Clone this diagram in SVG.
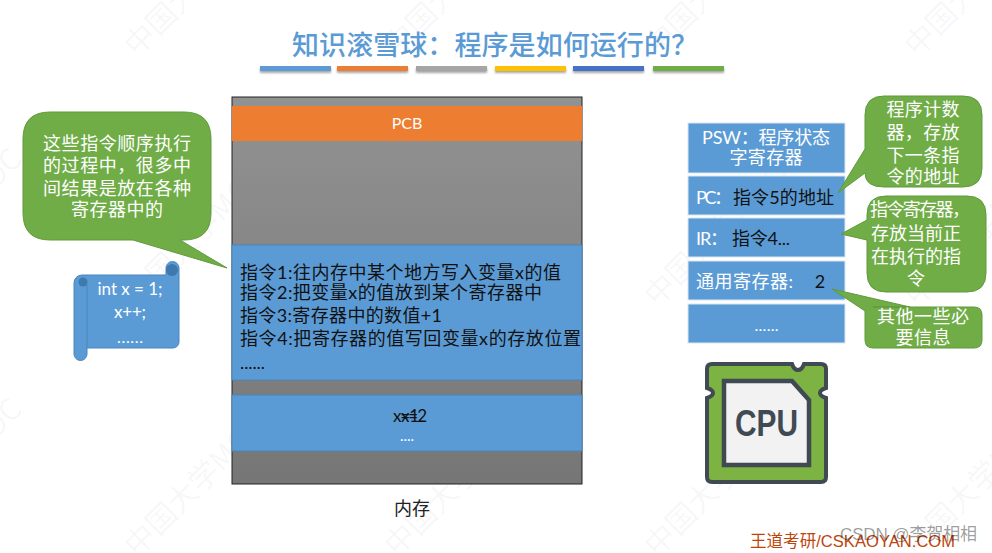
<svg xmlns="http://www.w3.org/2000/svg" width="992" height="553" viewBox="0 0 992 553">
<style>
text{font-family:Lato,"Noto Sans CJK SC",sans-serif;text-anchor:middle}
.w{fill:#fff;font-size:18px}
.k{fill:#111;font-size:18px}
.l{fill:#111;font-size:18px;text-anchor:start}
.s{text-anchor:start}
.g{fill:#70ad47;stroke:#5f9a3a;stroke-width:1}
.b{fill:#5b9bd5;stroke:#4a86bb;stroke-width:1}
.r{fill:#5b9bd5;stroke:#d9e6f2;stroke-width:1}
.bar{filter:url(#sh)}
.wm{font-family:"Noto Sans CJK SC",sans-serif;font-size:30px;fill:#000;fill-opacity:.045;text-anchor:start}
</style>
<defs>
<linearGradient id="mem" x1="0" y1="0" x2="0" y2="1"><stop offset="0" stop-color="#929292"/><stop offset="1" stop-color="#767676"/></linearGradient>
<filter id="sh" x="-5%" y="-50%" width="110%" height="220%"><feDropShadow dx="0" dy="2" stdDeviation="1.2" flood-color="#000" flood-opacity=".35"/></filter>
</defs>
<rect width="992" height="553" fill="#fff"/>
<g id="watermark">
<text class="wm" transform="translate(137,58) rotate(-45)">中国大学MOOC</text>
<text class="wm" transform="translate(397,58) rotate(-45)">中国大学MOOC</text>
<text class="wm" transform="translate(657,58) rotate(-45)">中国大学MOOC</text>
<text class="wm" transform="translate(917,58) rotate(-45)">中国大学MOOC</text>
<text class="wm" transform="translate(-123,308) rotate(-45)">中国大学MOOC</text>
<text class="wm" transform="translate(137,308) rotate(-45)">中国大学MOOC</text>
<text class="wm" transform="translate(397,308) rotate(-45)">中国大学MOOC</text>
<text class="wm" transform="translate(657,308) rotate(-45)">中国大学MOOC</text>
<text class="wm" transform="translate(917,308) rotate(-45)">中国大学MOOC</text>
<text class="wm" transform="translate(-123,558) rotate(-45)">中国大学MOOC</text>
<text class="wm" transform="translate(137,558) rotate(-45)">中国大学MOOC</text>
<text class="wm" transform="translate(397,558) rotate(-45)">中国大学MOOC</text>
<text class="wm" transform="translate(657,558) rotate(-45)">中国大学MOOC</text>
<text class="wm" transform="translate(917,558) rotate(-45)">中国大学MOOC</text>
</g>
<g id="title">
<text x="495" y="55" font-size="27" font-weight="500" fill="#5b9bd5" textLength="406">知识滚雪球：程序是如何运行的？</text>
<rect class="bar" x="260" y="66" width="71" height="5" fill="#5b9bd5"/>
<rect class="bar" x="337" y="66" width="71" height="5" fill="#ed7d31"/>
<rect class="bar" x="416" y="66" width="71" height="5" fill="#a5a5a5"/>
<rect class="bar" x="495" y="66" width="71" height="5" fill="#ffc000"/>
<rect class="bar" x="573" y="66" width="71" height="5" fill="#4472c4"/>
<rect class="bar" x="653" y="66" width="71" height="5" fill="#70ad47"/>
</g>
<g id="memory">
<rect x="232" y="97" width="350" height="387" fill="url(#mem)" stroke="#222" stroke-width="1"/>
<text x="412" y="515" font-size="18" fill="#222">内存</text>
</g>
<g id="pcb">
<rect x="232" y="106" width="350" height="35" fill="#ed7d31"/>
<text x="407" y="129" class="w" style="font-size:16px">PCB</text>
</g>
<g id="instructions">
<rect x="232" y="245" width="350" height="135" class="b"/>
<text class="l" x="240" y="279" textLength="321">指令1:往内存中某个地方写入变量x的值</text>
<text class="l" x="240" y="299" textLength="302">指令2:把变量x的值放到某个寄存器中</text>
<text class="l" x="240" y="322" textLength="202">指令3:寄存器中的数值+1</text>
<text class="l" x="240" y="345" textLength="341">指令4:把寄存器的值写回变量x的存放位置</text>
<text class="l" x="240" y="369" textLength="25">......</text>
</g>
<g id="data">
<rect x="232" y="395" width="350" height="56" class="b"/>
<text class="k" x="393" y="422" style="font-size:17px;text-anchor:start" textLength="26">x=1</text>
<text class="k" x="401" y="422" style="font-size:17px;text-anchor:start" textLength="26">x=2</text>
<text class="w" x="407" y="441" style="font-size:15px">....</text>
</g>
<g id="callout-left">
<path class="g" d="M50 112H184Q211 112 211 139V213Q211 240 184 240H180L227 268L133 240H50Q23 240 23 213V139Q23 112 50 112Z"/>
<text class="w" x="117" y="150" textLength="148">这些指令顺序执行</text>
<text class="w" x="117" y="172" textLength="148">的过程中，很多中</text>
<text class="w" x="117" y="195" textLength="148">间结果是放在各种</text>
<text class="w" x="117" y="216" textLength="92">寄存器中的</text>
</g>
<g id="code-scroll">
<path d="M82 275H166V268a6.500 6.500 0 0 1 13 0V342a6 6 0 0 1-6 6H87V354a6.500 6.500 0 0 1-13 0V283a8 8 0 0 1 8-8Z" fill="#5b9bd5" stroke="#4a86bb"/>
<circle cx="172" cy="270" r="6" fill="#3f78ad"/>
<circle cx="83" cy="282" r="4.500" fill="#3f78ad"/>
<path d="M87 284V348" fill="none" stroke="#4a86bb"/>
<text class="w" x="130" y="295" style="font-size:17px" textLength="65">int x = 1;</text>
<text class="w" x="130" y="318" style="font-size:17px" textLength="32">x++;</text>
<text class="w" x="130" y="343" style="font-size:16px" textLength="26">......</text>
</g>
<g id="psw"><rect class="r" x="688" y="123" width="157" height="50"/>
<text class="w" x="766" y="144" textLength="128">PSW：程序状态</text>
<text class="w" x="766" y="164" textLength="73">字寄存器</text></g>
<g id="pc"><rect class="r" x="688" y="176" width="157" height="39"/>
<text class="w s" x="696" y="204" textLength="36">PC：</text>
<text class="k s" x="733" y="204" textLength="101">指令5的地址</text></g>
<g id="ir"><rect class="r" x="688" y="218" width="157" height="39"/>
<text class="w s" x="696" y="245" textLength="32">IR：</text>
<text class="k s" x="732" y="245" textLength="58">指令4...</text></g>
<g id="gpr"><rect class="r" x="688" y="261" width="157" height="39"/>
<text class="w s" x="696" y="288" textLength="97">通用寄存器:</text>
<text class="k" x="820" y="288">2</text></g>
<g id="more"><rect class="r" x="688" y="304" width="157" height="39"/>
<text class="w" x="766.500" y="331" style="font-size:16px" textLength="24">......</text></g>
<g id="callout-pc">
<path class="g" d="M884 96H963Q982 96 982 115V168Q982 187 963 187H884Q865 187 865 173L838 193L865 149V115Q865 96 884 96Z"/>
<text class="w" x="923" y="116" textLength="73">程序计数</text>
<text class="w" x="923" y="139" textLength="73">器，存放</text>
<text class="w" x="923" y="162" textLength="73">下一条指</text>
<text class="w" x="923" y="183" textLength="73">令的地址</text>
</g>
<g id="callout-ir">
<path class="g" d="M886 196H967Q986 196 986 215V273Q986 292 967 292H886Q867 292 867 273V240L841 234L867 220V215Q867 196 886 196Z"/>
<text class="w" x="920" y="216" textLength="100">指令寄存器，</text>
<text class="w" x="916" y="240" textLength="90">存放当前正</text>
<text class="w" x="916" y="263" textLength="90">在执行的指</text>
<text class="w" x="916" y="285">令</text>
</g>
<g id="callout-other">
<path class="g" d="M873 307H974Q982 307 982 315V340Q982 348 974 348H873Q865 348 865 340V311L832 289L910 307Z"/>
<text class="w" x="923" y="323" textLength="92">其他一些必</text>
<text class="w" x="923" y="344" textLength="55">要信息</text>
</g>
<g id="cpu">
<path d="M712 364H792Q794 370 798 370Q802 370 804 364H821Q826 364 826 369V388Q820 390 820 393Q820 396 826 398V477Q826 482 821 482H712Q707 482 707 477V398Q713 396 713 393Q713 390 707 388V369Q707 364 712 364Z" fill="#7cb342" stroke="#3f4a52" stroke-width="4"/>
<path d="M724 381H792L809 400V465H724Z" fill="#f2f2f2" stroke="#3f4a52" stroke-width="4.500"/>
<text x="766.500" y="436" font-size="36" font-weight="700" fill="#3f4a52" style="font-family:'Liberation Sans Narrow','Liberation Sans',sans-serif" textLength="63" lengthAdjust="spacingAndGlyphs">CPU</text>
</g>
<g id="footer">
<text x="852.500" y="547" font-size="16.500" fill="#c0440a" style="font-family:'Liberation Sans','Noto Sans CJK SC',sans-serif" textLength="205">王道考研/CSKAOYAN.COM</text>
<text x="908.500" y="540" font-size="17" fill="#000" fill-opacity=".4" style="font-family:'Liberation Sans','Noto Sans CJK SC',sans-serif" textLength="137">CSDN @李贺相相</text>
</g>
<g id="connectors"></g>
</svg>
